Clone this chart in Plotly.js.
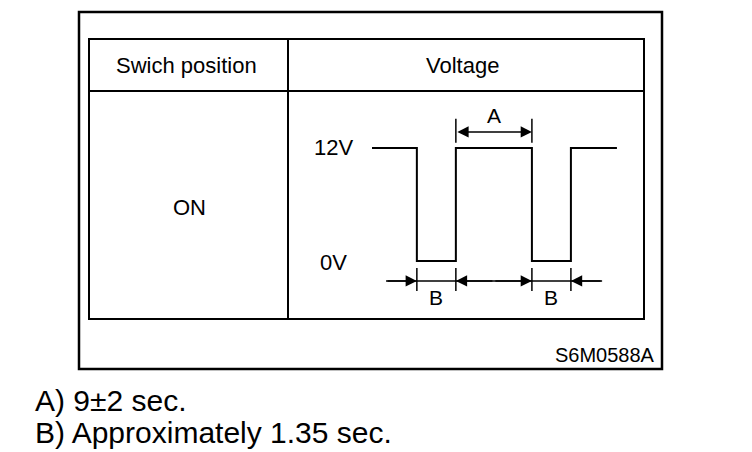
<!DOCTYPE html>
<html>
<head>
<meta charset="utf-8">
<script src="https://cdn.plot.ly/plotly-3.0.1.min.js"></script>
<style>
html,body{margin:0;padding:0;background:#fff;}
#chart{width:752px;height:452px;}
</style>
</head>
<body>
<div id="chart"></div>
<script>
// ---- data ----
const tableHeaders = ['Swich position', 'Voltage'];
const switchState = 'ON';
const waveTime = [0, 1.15, 1.15, 2.15, 2.15, 4.1, 4.1, 5.1, 5.1, 6.28];
const waveVolt = [12, 12, 0, 0, 12, 12, 0, 0, 12, 12];
const levelValues = [12, 0];
const levelLabels = ['12V', '0V'];
const periodA = [2.15, 4.1];
const pulsesB = [[1.15, 2.15], [4.1, 5.1]];
const dimLabels = ['A', 'B'];
const notes = ['A) 9\u00b12 sec.', 'B) Approximately 1.35 sec.'];
const figureId = 'S6M0588A';

// ---- layout helpers ----
const W = 752, H = 452;
const FONT = 'Liberation Sans, Arial, Helvetica, sans-serif';
const ink = '#000';
const shapes = [];
const annotations = [];
function rect(x0, y0, x1, y1, w) {
  shapes.push({type:'rect', xref:'x', yref:'y', x0, y0, x1, y1, line:{color:ink, width:w}, fillcolor:'rgba(0,0,0,0)'});
}
function line(xref, yref, x0, y0, x1, y1, w) {
  shapes.push({type:'line', xref, yref, x0, y0, x1, y1, line:{color:ink, width:w}});
}
function text(xref, yref, x, y, t, size, xanchor) {
  annotations.push({xref, yref, x, y, text:t, showarrow:false, xanchor:xanchor||'center', yanchor:'middle',
    font:{family:FONT, size, color:ink}});
}
function arrow(xHead, xTail, y) {
  annotations.push({xref:'x2', yref:'y2', axref:'x2', ayref:'y2', x:xHead, y, ax:xTail, ay:y, text:'',
    showarrow:true, arrowhead:2, arrowsize:1.5, arrowwidth:1.5, arrowcolor:ink, standoff:0, startstandoff:0});
}

// frames
rect(79, 12, 662, 369, 2.5);
rect(89, 39, 644, 319, 2);
line('x', 'y', 89, 91, 644, 91, 2);
line('x', 'y', 288, 39, 288, 319, 2);

// header + cell text
text('x', 'y', 186, 65, tableHeaders[0], 22);
text('x', 'y', 462, 65, tableHeaders[1], 22);
text('x', 'y', 189, 207, switchState, 22);
text('x', 'y', 657, 355, figureId, 20, 'right');
notes.forEach((n, i) => text('x', 'y', 33, 400 + i * 32, n, 30, 'left'));

// waveform level labels
levelValues.forEach((v, i) => text('x2', 'y2', -1.0, v - (v === 0 ? 0.2 : 0), levelLabels[i], 22));

// A dimension
const yA = 13.7;
periodA.forEach(t => line('x2', 'y2', t, 12.55, t, 15.1, 1.5));
annotations.push({xref:'x2', yref:'y2', axref:'x2', ayref:'y2', x:periodA[1], y:yA, ax:periodA[0], ay:yA, text:'',
  showarrow:true, arrowhead:2, arrowside:'end+start', arrowsize:1.5, arrowwidth:1.5, arrowcolor:ink, standoff:0, startstandoff:0});
text('x2', 'y2', (periodA[0] + periodA[1]) / 2, 15.4, dimLabels[0], 21);

// B dimensions
const yB = -2.12;
line('x2', 'y2', 0.36, yB, 5.9, yB, 1.5);
pulsesB.forEach(p => {
  p.forEach(t => line('x2', 'y2', t, -0.74, t, -3.2, 1.5));
  text('x2', 'y2', (p[0] + p[1]) / 2, -3.85, dimLabels[1], 21);
});
arrow(pulsesB[0][0], 0.36, yB);
arrow(pulsesB[0][1], (pulsesB[0][1] + pulsesB[1][0]) / 2, yB);
arrow(pulsesB[1][0], (pulsesB[0][1] + pulsesB[1][0]) / 2, yB);
arrow(pulsesB[1][1], 5.9, yB);

const traces = [
  {x: [], y: [], xaxis:'x', yaxis:'y', type:'scatter', mode:'lines', hoverinfo:'skip', showlegend:false},
  {x: waveTime, y: waveVolt, xaxis:'x2', yaxis:'y2', type:'scatter', mode:'lines',
   line:{color:ink, width:2}, hoverinfo:'skip', showlegend:false, cliponaxis:false}
];

const axOff = {visible:false, showgrid:false, zeroline:false, fixedrange:true};
const layout = {
  width: W, height: H,
  margin: {l:0, r:0, t:0, b:0, pad:0},
  paper_bgcolor:'#fff', plot_bgcolor:'rgba(0,0,0,0)',
  showlegend:false,
  xaxis: Object.assign({range:[0, W], domain:[0, 1]}, axOff),
  yaxis: Object.assign({range:[H, 0], domain:[0, 1]}, axOff),
  xaxis2: Object.assign({range:[-2.154, 6.974], domain:[288 / W, 644 / W], anchor:'y2'}, axOff),
  yaxis2: Object.assign({range:[-6.16, 18.05], domain:[1 - 319 / H, 1 - 91 / H], anchor:'x2'}, axOff),
  shapes, annotations
};

Plotly.newPlot('chart', traces, layout, {displayModeBar:false, staticPlot:true});
</script>
</body>
</html>
